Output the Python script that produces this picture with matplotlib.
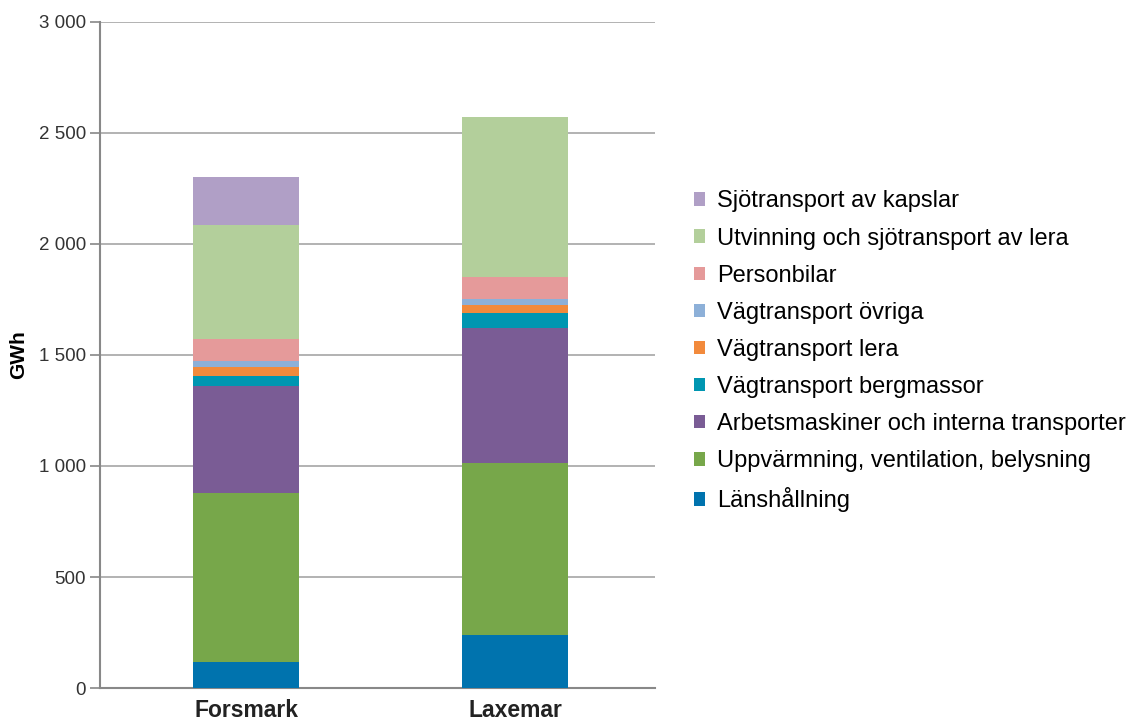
import matplotlib.pyplot as plt
import numpy as np

plt.rcParams['font.family'] = ['Liberation Sans', 'DejaVu Sans']

sites = ['Forsmark', 'Laxemar']

# stack order, bottom to top
categories = [
    'Länshållning',
    'Uppvärmning, ventilation, belysning',
    'Arbetsmaskiner och interna transporter',
    'Vägtransport bergmassor',
    'Vägtransport lera',
    'Vägtransport övriga',
    'Personbilar',
    'Utvinning och sjötransport av lera',
    'Sjötransport av kapslar',
]
forsmark = [116, 761, 485, 45, 38, 27, 99, 515, 216]
laxemar = [240, 772, 611, 66, 38, 25, 99, 721, 0]

colors = ['#0073AE', '#77A74A', '#7A5C95', '#0096B1', '#F28A3C',
          '#8DB0D8', '#E59A9A', '#B3CF9B', '#B09FC6']

yticks = [0, 500, 1000, 1500, 2000, 2500, 3000]
ytick_labels = ['0', '500', '1 000', '1 500', '2 000', '2 500', '3 000']

fig = plt.figure(figsize=(11.27, 7.24), dpi=100)
ax = fig.add_axes([0.0887, 0.0497, 0.4925, 0.92])

x = np.arange(len(sites))
values = np.array([forsmark, laxemar]).T
bottom = np.zeros(len(sites))
handles = []
for cat, vals, col in zip(categories, values, colors):
    h = ax.bar(x, vals, 0.394, bottom=bottom, color=col, label=cat, zorder=3)
    handles.append(h)
    bottom += vals

ax.set_xlim(-0.543, 1.52)
ax.set_ylim(0, 3000)
ax.set_yticks(yticks)
ax.set_yticklabels(ytick_labels, fontsize=13.5, color='#333333')
ax.set_xticks(x)
ax.set_xticklabels(sites, fontsize=16.5, fontweight='bold', color='#222222')
ax.tick_params(axis='x', length=0, pad=8)
ax.tick_params(axis='y', length=7, color='#888888', width=1.2, pad=3)
ax.grid(axis='y', color='#A6A6A6', linewidth=1.2, zorder=0)

for s in ['top', 'right']:
    ax.spines[s].set_visible(False)
for s in ['left', 'bottom']:
    ax.spines[s].set_color('#888888')
    ax.spines[s].set_linewidth(1.5)

ax.set_ylabel('GWh', fontsize=15, fontweight='bold', labelpad=8)

fig.legend(handles[::-1], categories[::-1], loc='upper left',
           bbox_to_anchor=(0.607, 0.75), frameon=False, fontsize=17,
           handlelength=0.5, handleheight=0.5, handletextpad=0.5,
           labelspacing=0.64, borderaxespad=0)

fig.savefig('out.png', dpi=100)
